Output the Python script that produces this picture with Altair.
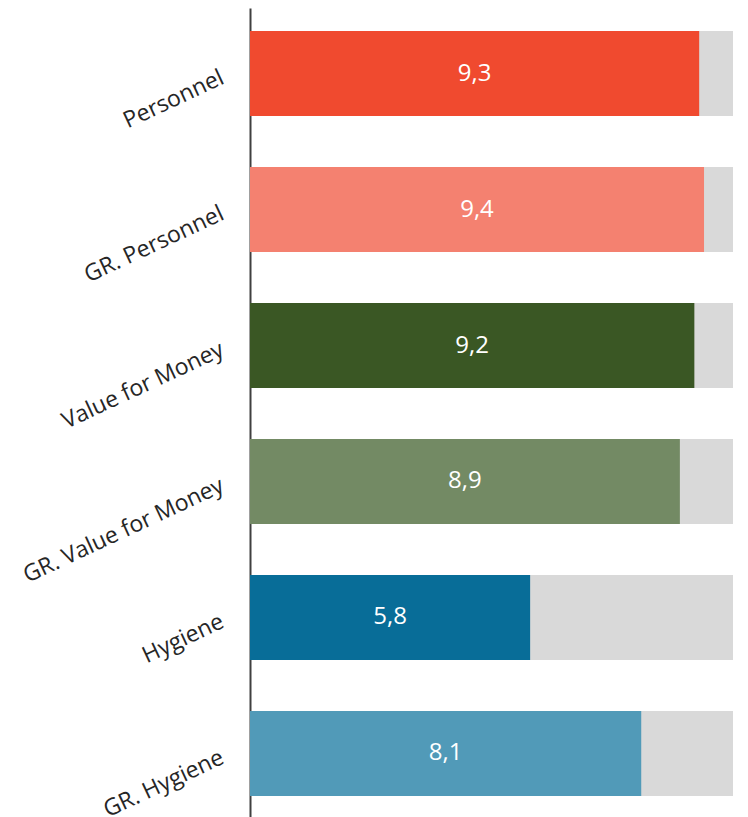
import altair as alt
import pandas as pd

categories = ["Personnel", "GR. Personnel", "Value for Money", "GR. Value for Money", "Hygiene", "GR. Hygiene"]
values = [9.3, 9.4, 9.2, 8.9, 5.8, 8.1]
colors = ["#F04A2F", "#F48170", "#3A5724", "#738A64", "#086D98", "#519AB8"]
max_value = 10

df = pd.DataFrame({
    "cat": categories,
    "value": values,
    "max": [max_value] * len(categories),
    "label": [f"{v:.1f}".replace(".", ",") for v in values],
    "mid": [v / 2 for v in values],
})

y = alt.Y("cat:N", sort=categories,
          scale=alt.Scale(paddingInner=0.375, paddingOuter=0.17),
          axis=alt.Axis(title=None, labelAngle=-25, labelFontSize=23, labelFont="Open Sans",
                        labelColor="#262626", labelPadding=28, labelOffset=3, ticks=False,
                        domainColor="#404040", domainWidth=2, labelLimit=400))
xscale = alt.Scale(domain=[0, max_value], nice=False, zero=True)

bg = alt.Chart(df).mark_bar(color="#D9D9D9").encode(
    y=y,
    x=alt.X("max:Q", scale=xscale, axis=None),
)
bars = alt.Chart(df).mark_bar().encode(
    y=y,
    x=alt.X("value:Q", scale=xscale, axis=None),
    color=alt.Color("cat:N", scale=alt.Scale(domain=categories, range=colors), legend=None),
)
text = alt.Chart(df).mark_text(color="white", fontSize=24, font="Open Sans").encode(
    y=y,
    x=alt.X("mid:Q", scale=xscale, axis=None),
    text="label:N",
)

chart = alt.layer(bg, bars, text).properties(
    width=483, height=811,
    autosize=alt.AutoSizeParams(type="none"),
    padding={"left": 242, "top": 0, "right": 0, "bottom": 0},
).configure_view(stroke=None)

chart.save("out.html", embed_options={"renderer": "svg", "actions": False})
